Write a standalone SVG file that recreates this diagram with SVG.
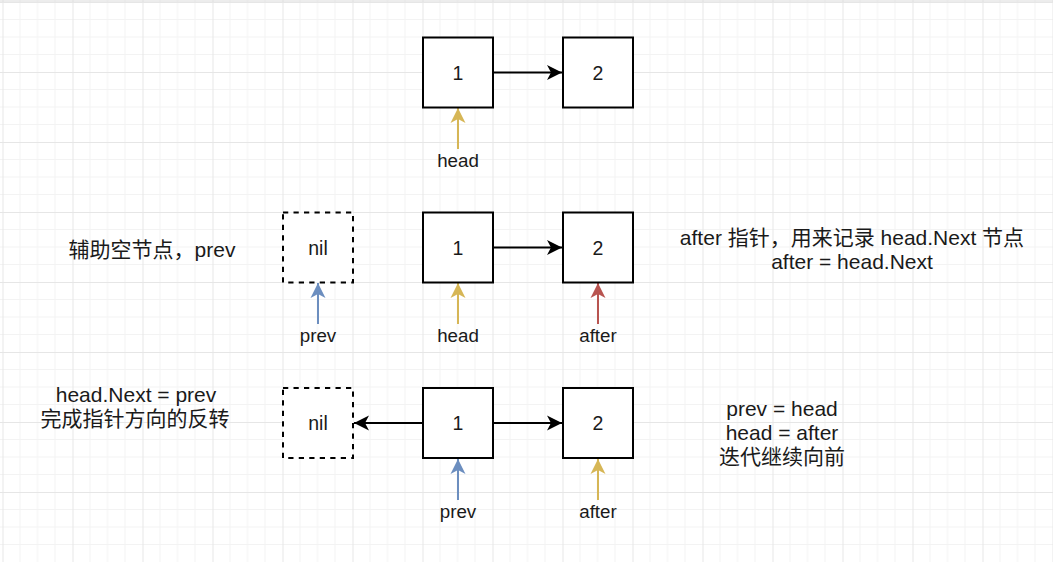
<svg xmlns="http://www.w3.org/2000/svg" width="1053" height="562" viewBox="0 0 1053 562">
<style>
text{font-family:"Liberation Sans","Noto Sans CJK SC",sans-serif;fill:#1a1a1a;text-anchor:middle}
.box{fill:#fff;stroke:#000;stroke-width:2}
.nil{fill:#fff;stroke:#000;stroke-width:2;stroke-dasharray:5.25 5.25}
.val{font-size:19.5px}
.lbl{font-size:18.75px}
.note{font-size:21px}
.link{stroke:#000;stroke-width:2;fill:none}
.pg{stroke:#d6b656;stroke-width:2;fill:none}
.pb{stroke:#6c8ebf;stroke-width:2;fill:none}
.pr{stroke:#b85450;stroke-width:2;fill:none}
</style>
<defs>
<pattern id="grid" x="2.5" y="2" width="70" height="70" patternUnits="userSpaceOnUse">
<path d="M17.5 0V70M35 0V70M52.5 0V70M0 17.5H70M0 35H70M0 52.5H70" stroke="#f3f3f3" stroke-width="1" fill="none"/>
<path d="M0.5 0V70M0 0.5H70" stroke="#e6e6e6" stroke-width="1" fill="none"/>
</pattern>
<marker id="ak" viewBox="0 0 16 16" refX="15" refY="8" markerWidth="16" markerHeight="16" markerUnits="userSpaceOnUse" orient="auto">
<path d="M15 8L0 0.5L4 8L0 15.5Z" fill="#000"/>
</marker>
<marker id="ag" viewBox="0 0 16 16" refX="15" refY="8" markerWidth="16" markerHeight="16" markerUnits="userSpaceOnUse" orient="auto">
<path d="M15 8L0 0.5L4 8L0 15.5Z" fill="#d6b656"/>
</marker>
<marker id="ab" viewBox="0 0 16 16" refX="15" refY="8" markerWidth="16" markerHeight="16" markerUnits="userSpaceOnUse" orient="auto">
<path d="M15 8L0 0.5L4 8L0 15.5Z" fill="#6c8ebf"/>
</marker>
<marker id="ar" viewBox="0 0 16 16" refX="15" refY="8" markerWidth="16" markerHeight="16" markerUnits="userSpaceOnUse" orient="auto">
<path d="M15 8L0 0.5L4 8L0 15.5Z" fill="#b85450"/>
</marker>
</defs>
<rect width="1053" height="562" fill="#fff"/>
<rect width="1053" height="562" fill="url(#grid)"/>
<line x1="0" y1="1" x2="1053" y2="1" stroke="#dadada" stroke-width="1"/>

<g id="connectors">
<line class="link" x1="493" y1="72.5" x2="562" y2="72.5" marker-end="url(#ak)"/>
<line class="link" x1="493" y1="247.5" x2="562" y2="247.5" marker-end="url(#ak)"/>
<line class="link" x1="493" y1="423" x2="562" y2="423" marker-end="url(#ak)"/>
<line class="link" x1="423" y1="423" x2="354" y2="423" marker-end="url(#ak)"/>
<line class="pg" x1="458" y1="149" x2="458" y2="108" marker-end="url(#ag)"/>
<line class="pb" x1="318" y1="324" x2="318" y2="283" marker-end="url(#ab)"/>
<line class="pg" x1="458" y1="324" x2="458" y2="283" marker-end="url(#ag)"/>
<line class="pr" x1="598" y1="324" x2="598" y2="283" marker-end="url(#ar)"/>
<line class="pb" x1="458" y1="500" x2="458" y2="459" marker-end="url(#ab)"/>
<line class="pg" x1="598" y1="500" x2="598" y2="459" marker-end="url(#ag)"/>
</g>

<g id="r1-n1"><rect class="box" x="423" y="37.5" width="70" height="70"/><text class="val" x="458" y="79.5">1</text></g>
<g id="r1-n2"><rect class="box" x="563" y="37.5" width="70" height="70"/><text class="val" x="598" y="79.5">2</text></g>
<g id="r1-head"><text class="lbl" x="458" y="167">head</text></g>

<g id="r2-nil"><rect class="nil" x="283" y="212.5" width="70" height="70"/><text class="val" x="318" y="254.5">nil</text></g>
<g id="r2-n1"><rect class="box" x="423" y="212.5" width="70" height="70"/><text class="val" x="458" y="254.5">1</text></g>
<g id="r2-n2"><rect class="box" x="563" y="212.5" width="70" height="70"/><text class="val" x="598" y="254.5">2</text></g>
<g id="r2-prev"><text class="lbl" x="318" y="342">prev</text></g>
<g id="r2-head"><text class="lbl" x="458" y="342">head</text></g>
<g id="r2-after"><text class="lbl" x="598" y="342">after</text></g>
<g id="r2-note-left"><text class="note" x="152" y="257">辅助空节点，prev</text></g>
<g id="r2-note-right"><text class="note" x="852" y="245">after 指针，用来记录 head.Next 节点</text><text class="note" x="852" y="269">after = head.Next</text></g>

<g id="r3-nil"><rect class="nil" x="283" y="388" width="70" height="70"/><text class="val" x="318" y="430">nil</text></g>
<g id="r3-n1"><rect class="box" x="423" y="388" width="70" height="70"/><text class="val" x="458" y="430">1</text></g>
<g id="r3-n2"><rect class="box" x="563" y="388" width="70" height="70"/><text class="val" x="598" y="430">2</text></g>
<g id="r3-prev"><text class="lbl" x="458" y="517.5">prev</text></g>
<g id="r3-after"><text class="lbl" x="598" y="517.5">after</text></g>
<g id="r3-note-left"><text class="note" x="136" y="402">head.Next = prev</text><text class="note" x="135" y="426">完成指针方向的反转</text></g>
<g id="r3-note-right"><text class="note" x="782" y="416">prev = head</text><text class="note" x="782" y="440">head = after</text><text class="note" x="782" y="464">迭代继续向前</text></g>
</svg>
